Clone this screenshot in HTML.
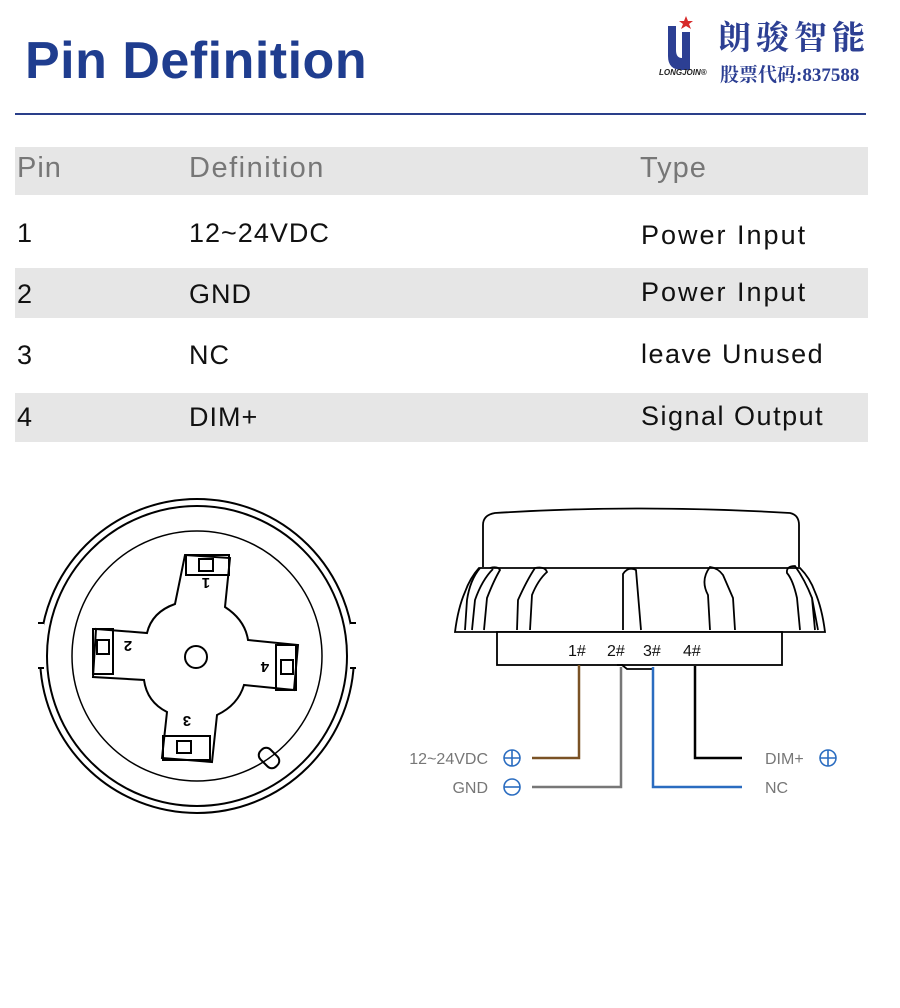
<!DOCTYPE html>
<html><head><meta charset="utf-8"><style>
body{margin:0;background:#fff;width:900px;height:1008px;position:relative;overflow:hidden;font-family:"Liberation Sans","DejaVu Sans",sans-serif}
.a{position:absolute;white-space:nowrap}
.band{position:absolute;left:15px;width:853px;background:#e6e6e6}
.t{font-size:27px;color:#111;letter-spacing:1px}
</style></head><body>
<div class="a" style="left:25px;top:31px;font-size:52px;font-weight:bold;color:#1f3d8f;letter-spacing:0.5px">Pin Definition</div>
<div class="a" style="left:15px;top:113px;width:851px;height:2px;background:#2a3f8a"></div>
<svg class="a" style="left:660px;top:12px" width="40" height="70"><path d="M8 14 L8 44 Q8 58 22 58 L30 58 L30 20 L22 20 L22 46 Q16 46 16 38 L16 14Z" fill="#2c3f93"/><polygon points="26,4 28,9 33,9 29,12 31,17 26,14 21,17 23,12 19,9 24,9" fill="#d62a2a"/></svg>
<div class="a" style="left:659px;top:68px;font-size:8px;font-weight:bold;font-style:italic;color:#222">LONGJOIN®</div>
<div class="a" style="left:718px;top:12px;font-size:33px;font-weight:bold;color:#2c3f93;letter-spacing:5px;font-family:'Noto Serif CJK SC',serif">朗骏智能</div>
<div class="a" style="left:720px;top:60px;font-size:19px;font-weight:bold;color:#2c3f93;font-family:'Liberation Serif','Noto Serif CJK SC',serif">股票代码:837588</div>

<div class="band" style="top:147px;height:48px"></div>
<div class="band" style="top:268px;height:50px"></div>
<div class="band" style="top:393px;height:49px"></div>
<div class="a" style="left:17px;top:152px;font-size:29px;color:#777;letter-spacing:1px">Pin</div>
<div class="a" style="left:189px;top:152px;font-size:29px;color:#777;letter-spacing:1.5px">Definition</div>
<div class="a" style="left:640px;top:152px;font-size:29px;color:#777;letter-spacing:1px">Type</div>
<div class="a t" style="left:17px;top:218px">1</div><div class="a t" style="left:189px;top:218px">12~24VDC</div><div class="a t" style="left:641px;top:220px;letter-spacing:2px">Power Input</div>
<div class="a t" style="left:17px;top:279px">2</div><div class="a t" style="left:189px;top:279px">GND</div><div class="a t" style="left:641px;top:277px;letter-spacing:2px">Power Input</div>
<div class="a t" style="left:17px;top:340px">3</div><div class="a t" style="left:189px;top:340px">NC</div><div class="a t" style="left:641px;top:339px;letter-spacing:1.5px">leave Unused</div>
<div class="a t" style="left:17px;top:402px">4</div><div class="a t" style="left:189px;top:402px">DIM+</div><div class="a t" style="left:641px;top:401px;letter-spacing:1.5px">Signal Output</div>

<svg class="a" style="left:0;top:480px" width="900" height="360" fill="none" stroke="#000" stroke-width="2">
<g>
<circle cx="197" cy="176" r="157"/>
<circle cx="197" cy="176" r="150"/>
<circle cx="197" cy="176" r="125" stroke-width="1.5"/>
<rect x="36" y="143" width="8" height="45" fill="#fff" stroke="none"/>
<rect x="350" y="143" width="8" height="45" fill="#fff" stroke="none"/>
<path d="M38 143 H44 M38 188 H44 M350 143 H356 M350 188 H356"/>
<path d="M185 75 L230 78 L225 127 Q245 140 248 160 L298 165 L294 210 L244 205 Q238 225 217 235 L212 282 L162 278 L167 232 Q147 222 144 200 L93 197 L96 149 L147 153 Q152 132 175 124 Z" fill="#fff"/>
<rect x="186" y="75" width="43" height="20"/><rect x="199" y="79" width="14" height="12"/>
<rect x="93" y="149" width="20" height="45"/><rect x="97" y="160" width="12" height="14"/>
<rect x="276" y="165" width="20" height="45"/><rect x="281" y="180" width="12" height="14"/>
<rect x="163" y="256" width="47" height="24"/><rect x="177" y="261" width="14" height="12"/>
<circle cx="196" cy="177" r="11"/>
<rect x="262" y="267" width="14" height="22" rx="6" transform="rotate(-45 269 278)"/>
</g>
<g font-size="15" font-weight="bold" fill="#000" stroke="none" font-family="Liberation Sans">
<text x="206" y="108" transform="rotate(180 206 103)" text-anchor="middle">1</text>
<text x="128" y="173" transform="rotate(180 128 167)" text-anchor="middle">2</text>
<text x="265" y="194" transform="rotate(180 265 188)" text-anchor="middle">4</text>
<text x="187" y="248" transform="rotate(180 187 242)" text-anchor="middle">3</text>
</g>
<g stroke-width="1.8">
<path d="M483 87 L483 45 Q483 35 495 33 Q640 24 790 33 Q799 35 799 45 L799 87"/>
<path d="M479 88 Q470 98 465 112 Q458 128 455 152 L825 152 Q822 128 815 112 Q810 98 800 88 Z" fill="#fff"/>
<path d="M465 150 L467 120 Q470 100 480 88 M472 150 L475 120 Q482 100 493 89 M484 150 L487 118 Q494 100 500 90 Q498 86 490 88 M530 150 L532 115 Q538 100 547 92 Q545 86 535 88 Q527 100 518 120 L517 150 M623 150 L623 94 Q628 86 636 90 L641 150 M710 150 L708 115 Q700 100 710 87 Q718 88 723 95 L733 118 L735 150 M800 150 L797 118 Q793 100 787 93 Q786 86 795 86 Q805 100 812 118 L818 150 M815 150 L812 118"/>
<rect x="497" y="152" width="285" height="33" fill="#fff"/>
<path d="M622 185 L627 189 H653 M617 185 H623"/>
</g>
<g stroke-width="2.5">
<path d="M579 185 V278 H532" stroke="#7a5225"/>
<path d="M621 187 V307 H532" stroke="#777"/>
<path d="M653 187 V307 H742" stroke="#2a6cc0"/>
<path d="M695 186 V278 H742" stroke="#000"/>
</g>
<g stroke="#2a6cc0" stroke-width="1.6">
<circle cx="512" cy="278" r="8"/><path d="M504 278 H520 M512 270 V286"/>
<circle cx="512" cy="307" r="8"/><path d="M504 307 H520"/>
<circle cx="828" cy="278" r="8"/><path d="M820 278 H836 M828 270 V286"/>
</g>
<g font-size="16" fill="#777" stroke="none" font-family="Liberation Sans">
<text x="488" y="284" text-anchor="end">12~24VDC</text>
<text x="488" y="313" text-anchor="end">GND</text>
<text x="765" y="284">DIM+</text>
<text x="765" y="313">NC</text>
</g>
<g font-size="16" fill="#111" stroke="none" font-family="Liberation Sans">
<text x="568" y="176">1#</text><text x="607" y="176">2#</text><text x="643" y="176">3#</text><text x="683" y="176">4#</text>
</g>
</svg>
</body></html>
